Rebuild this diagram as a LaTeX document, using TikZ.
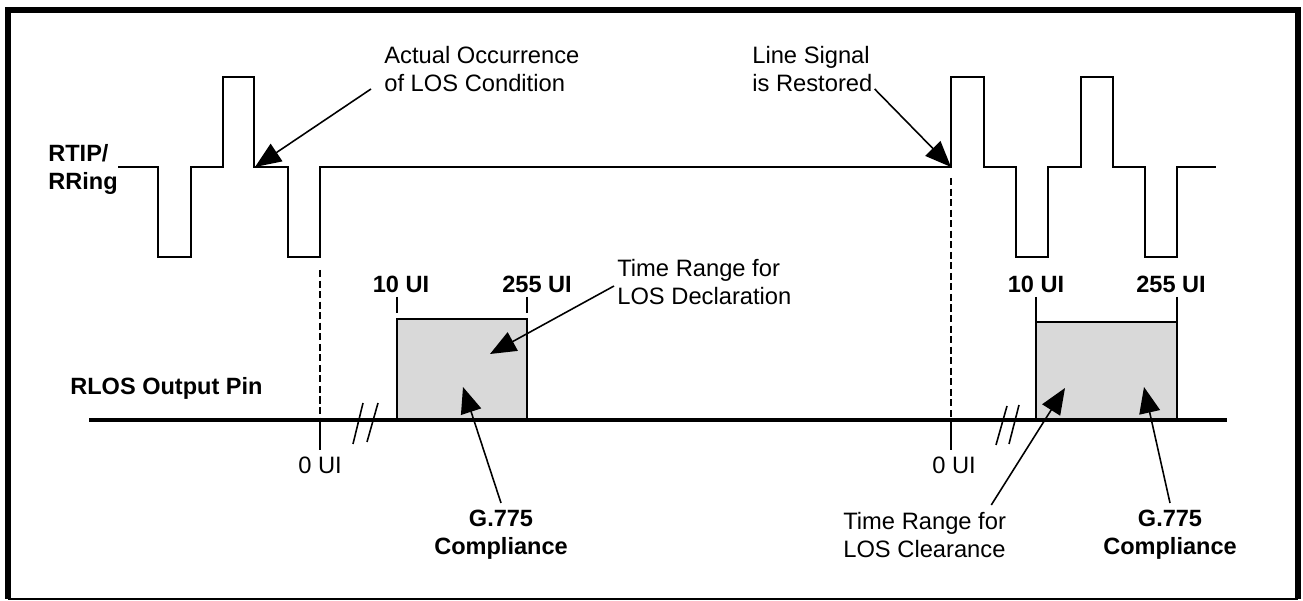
\documentclass[tikz,border=0pt]{standalone}
\usepackage{fontspec}
\setmainfont{Liberation Sans}
\usetikzlibrary{arrows.meta}

\begin{document}
\begin{tikzpicture}[x=0.02cm, y=-0.02cm,
	lbl/.style={inner sep=0, align=left, font=\fontsize{13.5}{15.9}\selectfont},
	blbl/.style={inner sep=0, align=left, font=\fontsize{13.4}{15.9}\selectfont\bfseries},
	sig/.style={line width=1.1pt, line join=miter},
	tickline/.style={line width=0.9pt},
	ptr/.style={line width=0.9pt, -{Triangle[length=0.52cm, width=0.42cm]}},
	losbox/.style={draw, line width=0.9pt, fill=black!15}]
	\useasboundingbox (0,0) rectangle (1303,601);

	% frame
	\draw[line width=3pt] (8,599) -- (8,10) -- (1298,10) -- (1298,599);
	\draw[line width=0.8pt] (8,599) -- (1298,599);

	% points on the wave and on the pin line
	\coordinate (los) at (255,167) {};
	\coordinate (restore) at (951,167) {};
	\coordinate (rlosL) at (89,420) {};
	\coordinate (rlosR) at (1227,420) {};
	\coordinate (zeroA) at (320,420) {};
	\coordinate (zeroB) at (951,420) {};

	\coordinate (declTip) at (490,354) {};
	\coordinate (g1Tip) at (463,387) {};
	\coordinate (clrTip) at (1065,388) {};
	\coordinate (g2Tip) at (1144,387) {};

	% RTIP/RRing signal
	\draw[sig] (118,167) -- (158,167) -- (158,257) -- (191,257) -- (191,167)
		-- (223,167) -- (223,77) -- (254,77) -- (254,167) -- (288,167)
		-- (288,257) -- (320,257) -- (320,167) -- (restore) -- (951,77)
		-- (984,77) -- (984,167) -- (1016,167) -- (1016,257) -- (1048,257)
		-- (1048,167) -- (1081,167) -- (1081,77) -- (1113,77) -- (1113,167)
		-- (1145,167) -- (1145,257) -- (1177,257) -- (1177,167) -- (1216,167);

	% RLOS pin
	\draw[losbox] (397,319) rectangle (527,420);
	\draw[losbox] (1036,322) rectangle (1177,420);
	\draw[line width=2.3pt] (rlosL) -- (rlosR);

	\draw[tickline, dash pattern=on 4pt off 2pt] (320,270) -- (zeroA);
	\draw[tickline, dash pattern=on 4pt off 2pt] (951,178) -- (zeroB);
	\draw[line width=1.5pt] (zeroA) -- ++(0,30);
	\draw[line width=1.5pt] (zeroB) -- ++(0,30);

	\draw[tickline] (397,297) -- (397,313);
	\draw[tickline] (527,297) -- (527,313);
	\draw[tickline] (1036,297) -- (1036,322);
	\draw[tickline] (1177,297) -- (1177,322);

	% breaks
	\draw[tickline] (353,444) -- (363,403);
	\draw[tickline] (367,442) -- (378,403);
	\draw[tickline] (996,445) -- (1007,406);
	\draw[tickline] (1009,444) -- (1019,405);

	% labels
	\node[blbl, anchor=west] (rtip) at (48,169) {RTIP/\\RRing};
	\node[blbl, anchor=west] (rlos) at (70,388) {RLOS Output Pin};
	\node[lbl, anchor=west] (occ) at (384,69) {Actual Occurrence\\of LOS Condition};
	\node[lbl, anchor=west] (rest) at (752,69) {Line Signal\\is Restored};
	\node[lbl, anchor=west] (decl) at (617,282) {Time Range for\\LOS Declaration};
	\node[lbl, anchor=west] (clr) at (843,535) {Time Range for\\LOS Clearance};

	\node[blbl] (ui10a) at (401,284) {10 UI};
	\node[blbl] (ui255a) at (537,284) {255 UI};
	\node[blbl] (ui10b) at (1036,284) {10 UI};
	\node[blbl] (ui255b) at (1171,284) {255 UI};
	\node[lbl] (ui0a) at (320,465) {0 UI};
	\node[lbl] (ui0b) at (954,465) {0 UI};

	\node[blbl, align=center] (g1) at (501,535) {G.775\\Compliance};
	\node[blbl, align=center] (g2) at (1170,535) {G.775\\Compliance};

	% pointers
	\draw[ptr] ([shift={(-13,20)}]occ.west) -- (los);
	\draw[ptr] ([shift={(2,20)}]rest.east) -- (restore);
	\draw[ptr] ([shift={(-3,4)}]decl.west) -- (declTip);
	\draw[ptr] ([yshift=4pt]g1.north) -- (g1Tip);
	\draw[ptr] ([shift={(-15,-7)}]clr.north east) -- (clrTip);
	\draw[ptr] ([yshift=4pt]g2.north) -- (g2Tip);
\end{tikzpicture}
\end{document}
